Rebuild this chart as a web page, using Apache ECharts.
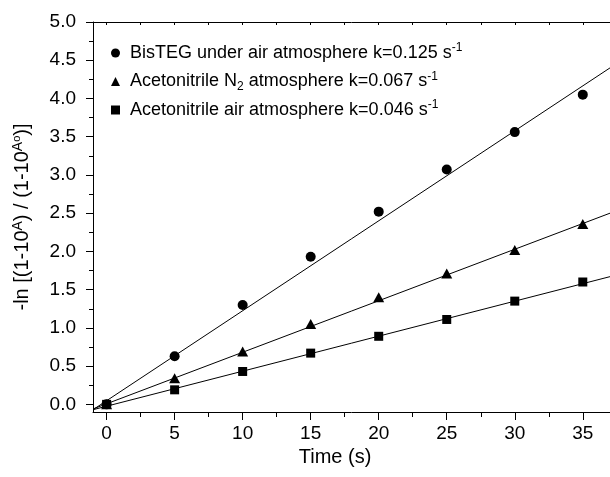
<!DOCTYPE html>
<html>
<head>
<meta charset="utf-8">
<script src="https://cdn.jsdelivr.net/npm/echarts@6/dist/echarts.min.js"></script>
<style>html,body{margin:0;padding:0;background:#fff}#c{width:610px;height:477px}</style>
</head>
<body>
<div id="c"></div>
<script>
// ---- data ----
const time = [0, 5, 10, 15, 20, 25, 30, 35];
const bisteg = [0.00, 0.63, 1.30, 1.93, 2.52, 3.07, 3.56, 4.05];
const acnN2 = [0.00, 0.34, 0.69, 1.05, 1.40, 1.71, 2.02, 2.36];
const acnAir = [0.00, 0.19, 0.43, 0.67, 0.89, 1.11, 1.35, 1.60];
// fitted lines, endpoints read at the plot edges
const fitTime = [-1, 37];
const bistegFit = [-0.07, 4.40];
const acnN2Fit = [-0.06, 2.50];
const acnAirFit = [-0.07, 1.67];
// axis ticks
const xTicks = [0, 5, 10, 15, 20, 25, 30, 35];
const xMinorTicks = [2.5, 7.5, 12.5, 17.5, 22.5, 27.5, 32.5];
const xTopTicks = [0, 2.5, 5, 7.5, 10, 12.5, 15, 17.5, 20, 22.5, 25, 27.5, 30, 32.5, 35];
const yTicks = [0, 0.5, 1.0, 1.5, 2.0, 2.5, 3.0, 3.5, 4.0, 4.5, 5.0];
const yMinorTicks = [0.25, 0.75, 1.25, 1.75, 2.25, 2.75, 3.25, 3.75, 4.25, 4.75];
const names = ['BisTEG under air atmosphere', 'Acetonitrile N2 atmosphere', 'Acetonitrile air atmosphere'];
const legendText = {
  'BisTEG under air atmosphere': 'BisTEG under air atmosphere k=0.125 s{sup|-1}',
  'Acetonitrile N2 atmosphere': 'Acetonitrile N{sub|2} atmosphere k=0.067 s{sup|-1}',
  'Acetonitrile air atmosphere': 'Acetonitrile air atmosphere k=0.046 s{sup|-1}'
};

const FONT = 'Liberation Sans, Arial, Helvetica, sans-serif';
const pairs = (xs, ys) => xs.map((x, i) => [x, ys[i]]);

const chart = echarts.init(document.getElementById('c'), null, {renderer: 'canvas'});
const xBase = {min: -1, max: 37, type: 'value', splitLine: {show: false}};
const yBase = {min: -0.1, max: 5.0, type: 'value', splitLine: {show: false}};
chart.setOption({
  animation: false,
  backgroundColor: '#fff',
  grid: {left: 93, top: 22, right: 0, bottom: 65, containLabel: false},
  legend: {
    orient: 'vertical', left: 106, top: 37, itemGap: 6.5,
    itemWidth: 9, itemHeight: 9,
    data: [
      {name: names[0], icon: 'circle'},
      {name: names[1], icon: 'triangle'},
      {name: names[2], icon: 'rect'}
    ],
    formatter: n => legendText[n],
    textStyle: {
      fontFamily: FONT, fontSize: 18, color: '#000', lineHeight: 22, padding: [0, 0, 0, 5],
      rich: {
        sup: {fontFamily: FONT, fontSize: 12, color: '#000', verticalAlign: 'top', lineHeight: 10},
        sub: {fontFamily: FONT, fontSize: 12, color: '#000', verticalAlign: 'bottom', lineHeight: 10}
      }
    }
  },
  xAxis: [
    Object.assign({}, xBase, {
      position: 'bottom',
      name: 'Time (s)', nameLocation: 'middle', nameGap: 34,
      nameTextStyle: {fontFamily: FONT, fontSize: 20, color: '#000', padding: [0, 33, 0, 0]},
      axisLine: {show: true, onZero: false, lineStyle: {color: '#000', width: 1}},
      axisTick: {show: true, length: 8, customValues: xTicks, lineStyle: {color: '#000', width: 1}},
      axisLabel: {customValues: xTicks, margin: 12, fontFamily: FONT, fontSize: 19, color: '#000'}
    }),
    Object.assign({}, xBase, {
      position: 'bottom',
      axisLine: {show: false, onZero: false},
      axisTick: {show: true, length: 5, customValues: xMinorTicks, lineStyle: {color: '#000', width: 1}},
      axisLabel: {show: false}
    }),
    Object.assign({}, xBase, {
      position: 'top',
      axisLine: {show: true, onZero: false, lineStyle: {color: '#000', width: 1}},
      axisTick: {show: true, inside: true, length: 3, customValues: xTopTicks, lineStyle: {color: '#000', width: 1}},
      axisLabel: {show: false}
    })
  ],
  yAxis: [
    Object.assign({}, yBase, {
      position: 'left',
      name: '-ln [(1-10{sup|A}) / (1-10{sup|A}{sup2|o})]',
      nameLocation: 'middle', nameGap: 59, nameRotate: 90,
      nameTextStyle: {
        fontFamily: FONT, fontSize: 20, color: '#000', lineHeight: 23,
        rich: {
          sup: {fontFamily: FONT, fontSize: 14, color: '#000', verticalAlign: 'top', lineHeight: 12},
          sup2: {fontFamily: FONT, fontSize: 11, color: '#000', verticalAlign: 'top', lineHeight: 8}
        }
      },
      axisLine: {show: true, onZero: false, lineStyle: {color: '#000', width: 1}},
      axisTick: {show: true, length: 7, customValues: yTicks, lineStyle: {color: '#000', width: 1}},
      axisLabel: {customValues: yTicks, margin: 17, fontFamily: FONT, fontSize: 19, color: '#000',
        formatter: v => v.toFixed(1)}
    }),
    Object.assign({}, yBase, {
      position: 'left',
      axisLine: {show: false, onZero: false},
      axisTick: {show: true, length: 4, customValues: yMinorTicks, lineStyle: {color: '#000', width: 1}},
      axisLabel: {show: false}
    })
  ],
  series: [
    {type: 'line', data: pairs(fitTime, bistegFit), showSymbol: false, symbol: 'none', clip: true,
     lineStyle: {color: '#000', width: 1}, silent: true, z: 1},
    {type: 'line', data: pairs(fitTime, acnN2Fit), showSymbol: false, symbol: 'none', clip: true,
     lineStyle: {color: '#000', width: 1}, silent: true, z: 1},
    {type: 'line', data: pairs(fitTime, acnAirFit), showSymbol: false, symbol: 'none', clip: true,
     lineStyle: {color: '#000', width: 1}, silent: true, z: 1},
    {name: names[2], type: 'scatter', data: pairs(time, acnAir), symbol: 'rect', symbolSize: 9,
     itemStyle: {color: '#000', opacity: 1}, z: 3},
    {name: names[1], type: 'scatter', data: pairs(time, acnN2), symbol: 'triangle', symbolSize: [11, 10],
     itemStyle: {color: '#000', opacity: 1}, z: 3},
    {name: names[0], type: 'scatter', data: pairs(time, bisteg), symbol: 'circle', symbolSize: 10,
     itemStyle: {color: '#000', opacity: 1}, z: 3}
  ]
});
</script>
</body>
</html>
